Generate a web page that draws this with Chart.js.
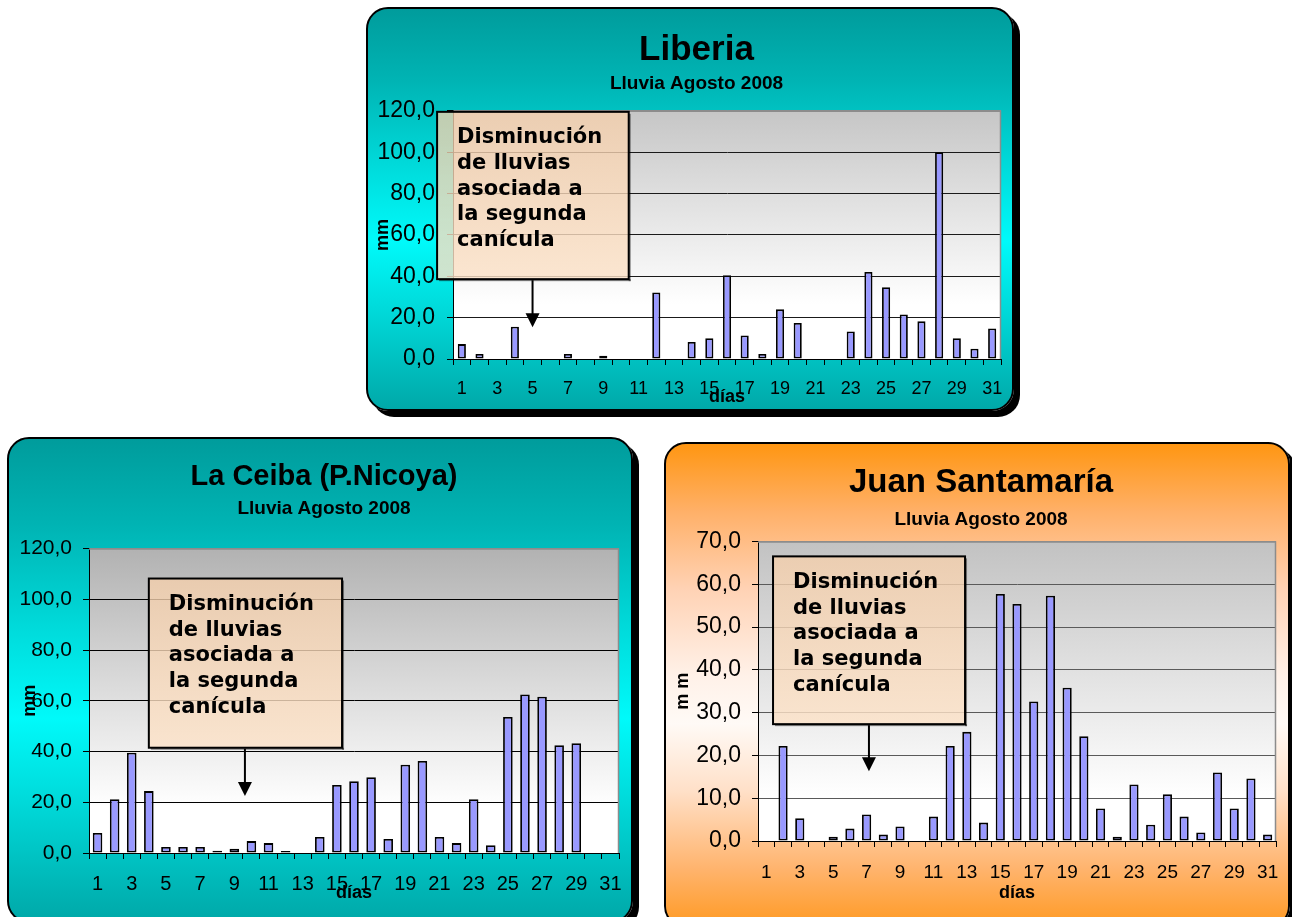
<!DOCTYPE html>
<html>
<head>
<meta charset="utf-8">
<title>Lluvia Agosto 2008</title>
<script src="https://cdn.jsdelivr.net/npm/chart.js@4.4.1/dist/chart.umd.min.js"></script>
<style>
  html, body { margin: 0; padding: 0; }
  body { width: 1292px; height: 917px; background: #ffffff; position: relative; overflow: hidden; }
  .panel {
    position: absolute; box-sizing: border-box;
    border: 2px solid #000; border-radius: 22px;
    box-shadow: 6px 6px 0 #000;
  }
  .teal {
    background: linear-gradient(180deg, #009c9c 0%, #00b4b4 18%, #00dcdc 40%, #00fafa 58%, #00dada 75%, #00a8a8 100%);
  }
  .orange {
    background: linear-gradient(180deg, #ff9612 0%, #ffb068 14%, #ffd2b4 30%, #fff1e8 48%, #fffaf6 58%, #ffe0c8 72%, #ffb46e 88%, #ff9a24 100%);
  }
  canvas { position: absolute; }
</style>
</head>
<body>
<div class="panel teal"   style="left:366px; top:7px;   width:648px; height:404px;"></div>
<div class="panel teal"   style="left:7px;   top:437px; width:626px; height:486px;"></div>
<div class="panel orange" style="left:664px; top:442px; width:626px; height:486px;"></div>

<canvas id="liberia"  width="648" height="404" style="left:366px; top:7px;"></canvas>
<canvas id="laCeiba"  width="626" height="480" style="left:7px;   top:437px;"></canvas>
<canvas id="juanSanta" width="626" height="475" style="left:664px; top:442px;"></canvas>

<script>
// Daily rainfall (mm), August 2008
const days = ['1','2','3','4','5','6','7','8','9','10','11','12','13','14','15','16',
              '17','18','19','20','21','22','23','24','25','26','27','28','29','30','31'];

const liberiaRain = [7.2, 2.4, 0, 15.6, 0, 0, 2.4, 0, 1.6, 0, 0, 32.2, 0, 8.2, 10.0, 40.5,
                     11.4, 2.4, 24.0, 17.4, 0, 0, 13.3, 42.1, 34.7, 21.5, 18.2, 100.0, 10.0, 5.0, 14.8];

const laCeibaRain = [7.9, 21.2, 39.5, 24.4, 2.4, 2.4, 2.4, 0.9, 1.7, 4.7, 3.9, 0.8, 0, 6.3, 26.8, 28.3,
                     29.9, 5.5, 34.8, 36.3, 6.3, 3.9, 21.2, 3.1, 53.6, 62.5, 61.6, 42.5, 43.3, null, null];

const juanSantamariaRain = [0, 22.2, 5.3, 0, 1.0, 2.9, 6.2, 1.5, 3.4, 0, 5.7, 22.2, 25.5, 4.3, 57.7, 55.4,
                            32.6, 57.3, 35.8, 24.5, 7.6, 1.0, 13.2, 3.8, 10.9, 5.7, 2.0, 16.0, 7.6, 14.6, 1.5];

// Value axis ranges
const liberiaAxis = { max: 120, step: 20 };
const laCeibaAxis = { max: 120, step: 20 };
const juanSantamariaAxis = { max: 70, step: 10 };

const subtitleText = 'Lluvia Agosto 2008';
const calloutLines = ['Disminución', 'de lluvias', 'asociada a', 'la segunda', 'canícula'];

const SANS = "'Liberation Sans', Arial, Helvetica, sans-serif";
const CALLOUT_FONT = "bold 21px 'DejaVu Sans', Verdana, sans-serif";

// Grey-to-white fill and thin grey frame of the plot area
const plotBackdrop = {
  id: 'plotBackdrop',
  beforeDraw(chart, args, opts) {
    const { ctx, chartArea: a } = chart;
    const g = ctx.createLinearGradient(0, a.top, 0, a.bottom);
    g.addColorStop(0, opts.topColor);
    g.addColorStop(opts.whiteAt, '#ffffff');
    g.addColorStop(1, '#ffffff');
    ctx.save();
    ctx.fillStyle = g;
    ctx.fillRect(a.left, a.top, a.right - a.left, a.bottom - a.top);
    ctx.restore();
  },
  afterDatasetsDraw(chart) {
    const { ctx, chartArea: a } = chart;
    ctx.save();
    ctx.strokeStyle = '#8c8c8c';
    ctx.lineWidth = 1.5;
    ctx.beginPath();
    ctx.moveTo(a.left, a.top + 0.5);
    ctx.lineTo(a.right - 0.5, a.top + 0.5);
    ctx.lineTo(a.right - 0.5, a.bottom);
    ctx.stroke();
    ctx.restore();
  }
};

// Nudges the title and subtitle blocks sideways after layout
const titleNudge = {
  id: 'titleNudge',
  afterLayout(chart, args, opts) {
    chart.boxes.forEach(b => {
      if (!b.axis && b.options && 'text' in b.options) {
        b.left += opts.shift;
        b.right += opts.shift;
      }
    });
  }
};

// Text box with a downward arrow, placed in data coordinates
const callout = {
  id: 'callout',
  afterDraw(chart, args, o) {
    const { ctx } = chart;
    const xs = chart.scales.x, ys = chart.scales.y;
    const x0 = xs.getPixelForValue(o.fromX), x1 = xs.getPixelForValue(o.toX);
    const y0 = ys.getPixelForValue(o.topY), y1 = ys.getPixelForValue(o.bottomY);
    const ax = xs.getPixelForValue(o.arrowX), tipY = ys.getPixelForValue(o.arrowTipY);
    ctx.save();
    // shadow
    ctx.fillStyle = 'rgba(0,0,0,0.45)';
    ctx.fillRect(x1, y0 + 2, 2, y1 - y0);
    ctx.fillRect(x0 + 2, y1, x1 - x0, 2);
    // body
    const g = ctx.createLinearGradient(0, y0, 0, y1);
    g.addColorStop(0, 'rgba(246,208,172,0.78)');
    g.addColorStop(1, 'rgba(252,226,200,0.82)');
    ctx.fillStyle = g;
    ctx.fillRect(x0, y0, x1 - x0, y1 - y0);
    ctx.strokeStyle = '#000';
    ctx.lineWidth = 2;
    ctx.strokeRect(x0, y0, x1 - x0, y1 - y0);
    // text
    ctx.fillStyle = '#000';
    ctx.font = CALLOUT_FONT;
    ctx.textBaseline = 'middle';
    ctx.textAlign = 'left';
    o.lines.forEach((t, i) => ctx.fillText(t, x0 + 20, y0 + 26 + i * 25.7));
    // arrow
    ctx.lineWidth = 2;
    ctx.beginPath();
    ctx.moveTo(ax, y1 + 1);
    ctx.lineTo(ax, tipY - 12);
    ctx.stroke();
    ctx.beginPath();
    ctx.moveTo(ax - 7, tipY - 14);
    ctx.lineTo(ax + 7, tipY - 14);
    ctx.lineTo(ax, tipY);
    ctx.closePath();
    ctx.fill();
    ctx.restore();
  }
};

const fmt = v => v.toFixed(1).replace('.', ',');

// Fixed axis band sizes; labels may overhang the plot edges
function fixSize(prop, size) {
  return s => {
    s[prop] = size;
    s.paddingLeft = s.paddingRight = s.paddingTop = s.paddingBottom = 0;
  };
}

function rainChart(id, cfg) {
  return new Chart(document.getElementById(id), {
    type: 'bar',
    data: {
      labels: days,
      datasets: [{
        data: cfg.values,
        backgroundColor: '#9999ff',
        borderColor: '#000000',
        borderWidth: 1.8,
        borderSkipped: false,
        barPercentage: cfg.barPct,
        categoryPercentage: 1
      }]
    },
    options: {
      responsive: false,
      animation: false,
      events: [],
      layout: { padding: { left: 0, right: cfg.padRight, top: 0, bottom: 0 } },
      plugins: {
        legend: { display: false },
        tooltip: { enabled: false },
        title: {
          display: true, text: cfg.title, color: '#000',
          font: { family: SANS, size: cfg.titleSize, weight: 'bold' },
          padding: { top: cfg.titlePad[0], bottom: cfg.titlePad[1] }
        },
        subtitle: {
          display: true, text: subtitleText, color: '#000',
          font: { family: SANS, size: cfg.subSize, weight: 'bold' },
          padding: { top: cfg.subPad[0], bottom: cfg.subPad[1] }
        },
        titleNudge: { shift: cfg.titleShift },
        plotBackdrop: { topColor: cfg.plotTop, whiteAt: cfg.whiteAt },
        callout: Object.assign({ lines: calloutLines }, cfg.callout)
      },
      scales: {
        x: {
          afterFit: fixSize('height', cfg.xHeight),
          grid: { offset: true, drawOnChartArea: false, drawTicks: true, tickLength: 6, tickColor: '#000', tickWidth: 1 },
          border: { display: true, color: '#000', width: 1 },
          ticks: {
            autoSkip: false, maxRotation: 0, minRotation: 0,
            padding: cfg.xTickPad, color: '#000',
            font: { family: SANS, size: cfg.xTickSize },
            callback: (v, i) => (i % 2 === 0 ? days[i] : '')
          },
          title: {
            display: true, text: 'días', color: '#000',
            font: { family: SANS, size: 18, weight: 'bold' },
            padding: { top: 0, bottom: cfg.xTitlePad }
          }
        },
        y: {
          min: 0, max: cfg.axis.max,
          afterFit: fixSize('width', cfg.yWidth),
          grid: {
            color: c => (c.tick && c.tick.value === cfg.axis.max ? '#8c8c8c' : cfg.gridColor),
            lineWidth: 1, drawTicks: true, tickLength: 6, tickColor: '#000'
          },
          border: { display: true, color: '#000', width: 1 },
          ticks: {
            stepSize: cfg.axis.step, padding: cfg.yTickPad, color: '#000',
            font: { family: SANS, size: cfg.yTickSize },
            callback: v => fmt(v)
          },
          title: {
            display: true, text: cfg.yTitle, color: '#000',
            font: { family: SANS, size: 18, weight: 'bold' },
            padding: { top: cfg.yTitlePad, bottom: 0 }
          }
        }
      }
    },
    plugins: [plotBackdrop, titleNudge, callout]
  });
}

rainChart('liberia', {
  values: liberiaRain, axis: liberiaAxis, title: 'Liberia', titleShift: 13,
  titleSize: 35, titlePad: [22, 0], subSize: 19, subPad: [1, 16],
  padRight: 13, yWidth: 87, xHeight: 52,
  xTickPad: 13, xTickSize: 18, xTitlePad: 3,
  yTickPad: 12, yTickSize: 23, yTitle: 'mm', yTitlePad: 6,
  barPct: 0.46, gridColor: '#1a1a1a', plotTop: '#c6c6c6', whiteAt: 0.78,
  callout: { fromX: -1.4, toX: 9.44, topY: 119.5, bottomY: 38.6, arrowX: 4, arrowTipY: 15.4 }
});

rainChart('laCeiba', {
  values: laCeibaRain, axis: laCeibaAxis, title: 'La Ceiba (P.Nicoya)', titleShift: 11,
  titleSize: 29, titlePad: [23, 0], subSize: 19, subPad: [3, 28],
  padRight: 14, yWidth: 82, xHeight: 64,
  xTickPad: 13, xTickSize: 20, xTitlePad: 13,
  yTickPad: 11, yTickSize: 21, yTitle: 'mm', yTitlePad: 12,
  barPct: 0.56, gridColor: '#000000', plotTop: '#b2b2b2', whiteAt: 0.85,
  callout: { fromX: 3.0, toX: 14.3, topY: 108.2, bottomY: 41.5, arrowX: 8.62, arrowTipY: 22.5 }
});

rainChart('juanSanta', {
  values: juanSantamariaRain, axis: juanSantamariaAxis, title: 'Juan Santamaría', titleShift: 11,
  titleSize: 33, titlePad: [21, 0], subSize: 19, subPad: [6, 10],
  padRight: 14, yWidth: 94, xHeight: 76,
  xTickPad: 14, xTickSize: 19, xTitlePad: 13,
  yTickPad: 11, yTickSize: 23, yTitle: 'm m', yTitlePad: 8,
  barPct: 0.55, gridColor: '#5a5a5a', plotTop: '#c2c2c2', whiteAt: 0.85,
  callout: { fromX: 0.4, toX: 11.89, topY: 66.5, bottomY: 27.3, arrowX: 6.14, arrowTipY: 16.3 }
});
</script>
</body>
</html>
